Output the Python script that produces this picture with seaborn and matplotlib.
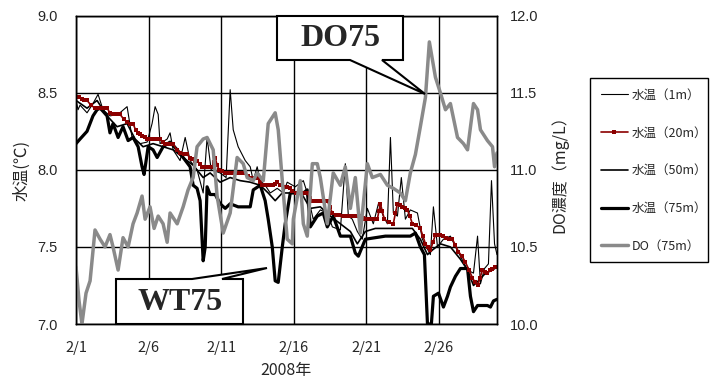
import numpy as np
import pandas as pd
import matplotlib
matplotlib.use("Agg")
import matplotlib.pyplot as plt
import seaborn as sns
from matplotlib.patches import Polygon, Rectangle
from matplotlib.lines import Line2D

# ---------------- data (day 0 = 2/1, 2008) ----------------
do_day = [0.00, 0.21, 0.41, 0.69, 0.97, 1.31, 1.66, 2.00, 2.34, 2.55, 2.90, 3.24, 3.59, 3.93, 4.21, 4.55,
          4.76, 5.10, 5.38, 5.66, 6.00, 6.28, 6.48, 6.97, 7.38, 7.72, 8.07, 8.34, 8.76, 9.03, 9.45, 9.72,
          10.14, 10.62, 11.10, 11.52, 11.79, 12.21, 12.48, 12.90, 13.24, 13.72, 13.93, 14.21, 14.55, 14.90,
          14.97, 15.45, 15.66, 15.93, 16.28, 16.62, 16.83, 17.31, 17.72, 18.21, 18.55, 18.90, 19.24, 19.59,
          20.07, 20.41, 20.97, 21.45, 21.86, 22.34, 22.69, 23.03, 23.38, 23.72, 24.07, 24.34, 24.76, 25.10,
          25.45, 25.79, 26.28, 26.69, 26.97, 27.38, 27.66, 27.86, 28.34, 28.69, 28.83, 29.00]
do_val = [10.37, 10.15, 10.00, 10.20, 10.28, 10.61, 10.55, 10.50, 10.58, 10.50, 10.35, 10.56, 10.50, 10.65, 10.72, 10.83,
          10.68, 10.76, 10.62, 10.70, 10.65, 10.53, 10.72, 10.65, 10.76, 10.87, 10.95, 11.15, 11.20, 11.21, 11.13, 10.83,
          10.59, 10.72, 11.08, 11.04, 10.95, 10.93, 10.98, 10.93, 11.30, 11.37, 11.26, 10.93, 10.55, 10.52,
          10.68, 10.93, 10.65, 10.57, 11.04, 11.04, 10.95, 10.65, 10.98, 10.90, 11.02, 10.75, 10.95, 10.59,
          11.04, 10.95, 10.97, 10.90, 10.88, 10.85, 10.80, 10.98, 11.10, 11.28, 11.47, 11.83, 11.60, 11.50,
          11.39, 11.43, 11.21, 11.17, 11.13, 11.43, 11.39, 11.26, 11.19, 11.15, 11.02, 11.11]

t75_day = [0.00, 0.28, 0.76, 1.17, 1.45, 1.66, 1.86, 2.14, 2.34, 2.55, 2.90, 3.24, 3.59, 3.93, 4.28, 4.55, 4.69,
           4.97, 5.31, 5.59, 6.00, 6.48, 6.97, 7.38, 7.86, 8.07, 8.34, 8.55, 8.76, 8.90, 9.03, 9.24, 9.59, 9.93,
           10.28, 10.62, 11.17, 12.00, 12.21, 12.69, 13.03, 13.24, 13.52, 13.72, 13.93, 14.21, 14.41, 14.76,
           15.66, 15.93, 16.14, 16.62, 17.03, 17.31, 17.72, 18.21, 18.90, 19.24, 19.45, 19.93, 20.62, 21.31,
           23.03, 23.38, 23.72, 24.00, 24.21, 24.48, 24.62, 24.97, 25.31, 25.59, 25.79, 26.14, 26.48, 26.97,
           27.17, 27.38, 27.66, 28.34, 28.55, 28.76, 29.00]
t75_val = [8.17, 8.20, 8.25, 8.35, 8.39, 8.40, 8.38, 8.35, 8.24, 8.30, 8.21, 8.28, 8.19, 8.21, 8.15, 8.02, 7.97,
           8.15, 8.13, 8.08, 8.15, 8.18, 8.13, 8.08, 8.02, 7.90, 7.88, 7.80, 7.41, 7.50, 7.89, 7.84, 7.84, 7.78,
           7.75, 7.78, 7.76, 7.76, 7.87, 7.90, 7.80, 7.68, 7.50, 7.28, 7.27, 7.50, 7.65, 7.85,
           7.85, 7.87, 7.63, 7.70, 7.72, 7.63, 7.70, 7.57, 7.57, 7.46, 7.44, 7.55, 7.56, 7.57,
           7.57, 7.59, 7.50, 7.45, 7.00, 7.00, 7.18, 7.20, 7.11, 7.18, 7.24, 7.31, 7.36, 7.36,
           7.18, 7.08, 7.12, 7.12, 7.11, 7.15, 7.16]

t20_day = [0.00, 0.19, 0.38, 0.57, 0.76, 1.03, 1.31, 1.52, 1.72, 1.93, 2.14, 2.34, 2.55, 2.79, 3.03, 3.28,
           3.52, 3.72, 3.93, 4.10, 4.28, 4.41, 4.55, 4.72, 4.90, 5.12, 5.34, 5.57, 5.79, 5.97, 6.14, 6.41,
           6.69, 6.93, 7.17, 7.41, 7.66, 7.83, 8.00, 8.17, 8.34, 8.52, 8.69, 8.86, 9.03, 9.21, 9.38, 9.48,
           9.59, 9.72, 9.86, 10.07, 10.28, 10.52, 10.76, 11.00, 11.24, 11.45, 11.66, 11.83, 12.00, 12.28,
           12.55, 12.69, 12.83, 13.03, 13.24, 13.41, 13.59, 13.72, 13.86, 14.03, 14.21, 14.38, 14.55, 14.72,
           14.90, 15.16, 15.41, 15.66, 15.93, 16.10, 16.28, 16.55, 16.79, 17.05, 17.31, 17.48, 17.66, 17.90,
           18.14, 18.38, 18.62, 18.86, 19.10, 19.34, 19.59, 19.76, 19.93, 20.14, 20.34, 20.55, 20.76, 20.86,
           20.97, 21.10, 21.24, 21.55, 21.86, 22.00, 22.14, 22.31, 22.48, 22.66, 22.83, 23.00, 23.17, 23.45,
           23.72, 23.90, 24.07, 24.24, 24.41, 24.59, 24.76, 24.93, 25.10, 25.31, 25.52, 25.72, 25.93, 26.14,
           26.34, 26.59, 26.83, 27.07, 27.31, 27.48, 27.66, 27.83, 28.00, 28.17, 28.34, 28.52, 28.69, 28.86,
           29.00]
t20_val = [8.47, 8.47, 8.46, 8.45, 8.45, 8.42, 8.40, 8.40, 8.40, 8.40, 8.40, 8.37, 8.36, 8.36, 8.36, 8.33,
           8.31, 8.30, 8.30, 8.26, 8.24, 8.23, 8.22, 8.21, 8.20, 8.20, 8.20, 8.20, 8.20, 8.18, 8.17, 8.17,
           8.17, 8.13, 8.11, 8.10, 8.10, 8.08, 8.07, 8.06, 8.06, 8.04, 8.02, 8.02, 8.02, 8.02, 8.02, 8.05,
           8.08, 8.03, 8.00, 7.99, 7.98, 7.98, 7.98, 7.98, 7.98, 7.98, 7.98, 7.96, 7.95, 7.95,
           7.95, 7.92, 7.90, 7.90, 7.90, 7.90, 7.90, 7.91, 7.92, 7.90, 7.90, 7.89, 7.89, 7.88,
           7.86, 7.85, 7.85, 7.85, 7.85, 7.82, 7.80, 7.80, 7.80, 7.80, 7.80, 7.76, 7.72, 7.71,
           7.71, 7.70, 7.70, 7.70, 7.70, 7.70, 7.70, 7.69, 7.68, 7.68, 7.68, 7.68, 7.68, 7.73,
           7.78, 7.73, 7.68, 7.66, 7.65, 7.72, 7.78, 7.77, 7.76, 7.75, 7.74, 7.70, 7.65, 7.64,
           7.62, 7.57, 7.52, 7.50, 7.48, 7.53, 7.58, 7.58, 7.58, 7.57, 7.56, 7.55, 7.55, 7.51,
           7.47, 7.44, 7.40, 7.35, 7.30, 7.27, 7.25, 7.30, 7.35, 7.34, 7.33, 7.35, 7.36, 7.37,
           7.37]

t1_day = [0.00, 0.14, 0.28, 0.76, 1.17, 1.52, 1.86, 2.34, 2.90, 3.52, 3.86, 4.41, 4.90, 5.24, 5.45, 5.66, 5.79,
          6.28, 6.48, 6.69, 7.17, 7.52, 7.86, 8.34, 8.76, 9.03, 9.31, 9.93, 10.34, 10.62, 10.83, 11.17, 11.66,
          12.00, 12.21, 12.48, 12.69, 13.03, 13.38, 13.86, 14.28, 14.55, 15.10, 15.66, 15.93, 16.34, 16.83,
          17.31, 17.66, 18.21, 18.55, 18.76, 19.03, 19.38, 19.72, 20.07, 20.48, 20.83, 21.17, 21.45, 21.66,
          21.86, 22.14, 22.41, 22.69, 23.03, 23.52, 23.86, 24.41, 24.62, 24.90, 25.31, 25.79, 26.14, 26.48,
          26.97, 27.38, 27.66, 27.86, 28.14, 28.41, 28.62, 28.83, 29.00]
t1_val = [8.45, 8.39, 8.42, 8.37, 8.43, 8.49, 8.39, 8.35, 8.36, 8.41, 8.21, 8.17, 8.18, 8.30, 8.41, 8.36, 8.17,
          8.20, 8.24, 8.13, 8.06, 8.21, 8.06, 8.00, 7.85, 8.21, 8.00, 7.98, 7.95, 8.52, 8.26, 8.15, 8.06,
          8.02, 7.93, 8.02, 7.93, 7.90, 7.85, 7.88, 7.85, 7.92, 7.89, 7.93, 7.85, 7.68, 7.74,
          7.72, 7.63, 7.61, 8.04, 7.70, 7.68, 7.60, 7.55, 7.75, 7.65, 7.78, 7.70, 7.65, 8.21,
          7.72, 7.70, 7.95, 7.68, 7.74, 7.72, 7.55, 7.45, 7.76, 7.50, 7.55, 7.57, 7.50, 7.44,
          7.35, 7.33, 7.57, 7.26, 7.36, 7.39, 7.93, 7.52, 7.45]

t50_day = [0.00, 0.76, 1.45, 2.14, 2.83, 3.52, 4.07, 4.62, 5.31, 6.00, 6.69, 7.38, 8.07, 8.76, 9.24, 9.93,
           10.62, 11.31, 12.00, 12.69, 13.24, 13.72, 14.21, 14.76, 15.45, 16.14, 16.83, 17.52, 18.21, 18.90,
           19.38, 19.93, 20.62, 21.31, 22.34, 23.17, 23.72, 24.21, 24.55, 25.10, 25.79, 26.48, 26.97, 27.38,
           27.72, 28.21, 28.69, 29.00]
t50_val = [8.45, 8.40, 8.45, 8.35, 8.28, 8.30, 8.20, 8.15, 8.17, 8.15, 8.13, 8.08, 8.03, 7.95, 7.98, 7.92,
           7.95, 7.93, 7.92, 7.90, 7.85, 7.80, 7.85, 7.85, 7.86, 7.75, 7.76, 7.70, 7.65, 7.60,
           7.52, 7.60, 7.62, 7.62, 7.62, 7.62, 7.55, 7.45, 7.48, 7.52, 7.50, 7.42, 7.35, 7.25,
           7.28, 7.33, 7.35, 7.37]

x_ticks = [0, 5, 10, 15, 20, 25]
x_ticklabels = ["2/1", "2/6", "2/11", "2/16", "2/21", "2/26"]
series_labels = ["水温（1m）", "水温（20m）", "水温（50m）", "水温（75m）", "DO（75m）"]

# ---------------- style ----------------
sns.set_style("white")
plt.rcParams['font.family'] = ['Liberation Sans', 'Noto Sans CJK JP', 'DejaVu Sans']
CJK = ['Noto Sans CJK JP', 'DejaVu Sans']

W, H = 716, 380
fig = plt.figure(figsize=(W / 100, H / 100), dpi=100)
L, R, T, B = 76, 497, 15.7, 324
ax = fig.add_axes([L / W, 1 - B / H, (R - L) / W, (B - T) / H])
ax2 = ax.twinx()

red = '#8B0000'
gray = '#8a8a8a'
lw1, lw20, lw50, lw75, lwdo = 0.8, 1.2, 1.2, 2.3, 2.5

sns.lineplot(x=t50_day, y=t50_val, ax=ax, color='black', linewidth=lw50, legend=False)
sns.lineplot(x=t75_day, y=t75_val, ax=ax, color='black', linewidth=lw75, legend=False)
sns.lineplot(x=t1_day, y=t1_val, ax=ax, color='black', linewidth=lw1, legend=False)
sns.lineplot(x=t20_day, y=t20_val, ax=ax, color=red, linewidth=lw20, marker='s',
             markersize=2.4, markeredgewidth=0, legend=False)
sns.lineplot(x=do_day, y=do_val, ax=ax2, color=gray, linewidth=lwdo, legend=False)

ax.set_xlim(0, 29)
ax.set_ylim(7.0, 9.0)
ax2.set_ylim(10.0, 12.0)
ax.set_yticks(np.arange(7.0, 9.01, 0.5))
ax2.set_yticks(np.arange(10.0, 12.01, 0.5))
ax.set_yticklabels([f"{v:.1f}" for v in np.arange(7.0, 9.01, 0.5)])
ax2.set_yticklabels([f"{v:.1f}" for v in np.arange(10.0, 12.01, 0.5)])
ax.set_xticks(x_ticks)
ax.set_xticklabels(x_ticklabels, fontfamily=CJK)
ax.set_xlabel("")
ax.set_ylabel("")
ax2.set_ylabel("")

ax.grid(True, color='black', linewidth=1.0)
ax.set_axisbelow(True)
ax.tick_params(axis='y', length=0, labelsize=10.5, pad=13)
ax.tick_params(axis='x', length=0, labelsize=10.5, pad=12)
ax2.tick_params(axis='y', length=0, labelsize=10.5, pad=9)
for a in (ax, ax2):
    for s in a.spines.values():
        s.set_color('black')
        s.set_linewidth(1.0)
ax2.grid(False)

fig.text(22 / W, 1 - 170 / H, "水温(℃)", rotation=90, ha='center', va='center',
         fontsize=12, family=CJK)
fig.text(560 / W, 1 - 170 / H, "DO濃度（mg/L）", rotation=90, ha='center', va='center',
         fontsize=11.5, family=CJK)
fig.text(286 / W, 1 - 371 / H, "2008年", ha='center', va='center', fontsize=11.5, family=CJK)


def P(x, y):
    return (x / W, 1 - y / H)


# ---------------- legend ----------------
handles = [
    Line2D([], [], color='black', lw=lw1),
    Line2D([], [], color=red, lw=lw20, marker='s', markersize=2.6, markevery=[1], markeredgewidth=0),
    Line2D([], [], color='black', lw=lw50),
    Line2D([], [], color='black', lw=lw75),
    Line2D([], [], color=gray, lw=lwdo),
]
leg = fig.legend(handles, series_labels, loc='upper left', bbox_to_anchor=P(590, 78),
                 frameon=False, handlelength=2.2, handletextpad=0.3, labelspacing=1.98,
                 borderpad=0.85, borderaxespad=0, prop={'family': CJK, 'size': 9})
fig.add_artist(Rectangle(P(590, 262), 118 / W, 184 / H, transform=fig.transFigure,
                         facecolor='none', edgecolor='black', linewidth=1.0))

# ---------------- callouts ----------------
do_box = [P(277, 16), P(403, 16), P(403, 60), P(382, 60), P(425, 94), P(350, 60), P(277, 60)]
wt_box = [P(116, 279), P(192, 279), P(267, 268), P(222, 279), P(243, 279), P(243, 324), P(116, 324)]
for pts in (do_box, wt_box):
    fig.add_artist(Polygon(pts, closed=True, transform=fig.transFigure, facecolor='white',
                           edgecolor='black', linewidth=1.5, zorder=10))
fig.text(*P(340, 39), "DO75", ha='center', va='center', fontsize=23, fontweight='bold',
         family='Liberation Serif', zorder=11)
fig.text(*P(180, 302), "WT75", ha='center', va='center', fontsize=23, fontweight='bold',
         family='Liberation Serif', zorder=11)

fig.savefig("out.png", dpi=100)
